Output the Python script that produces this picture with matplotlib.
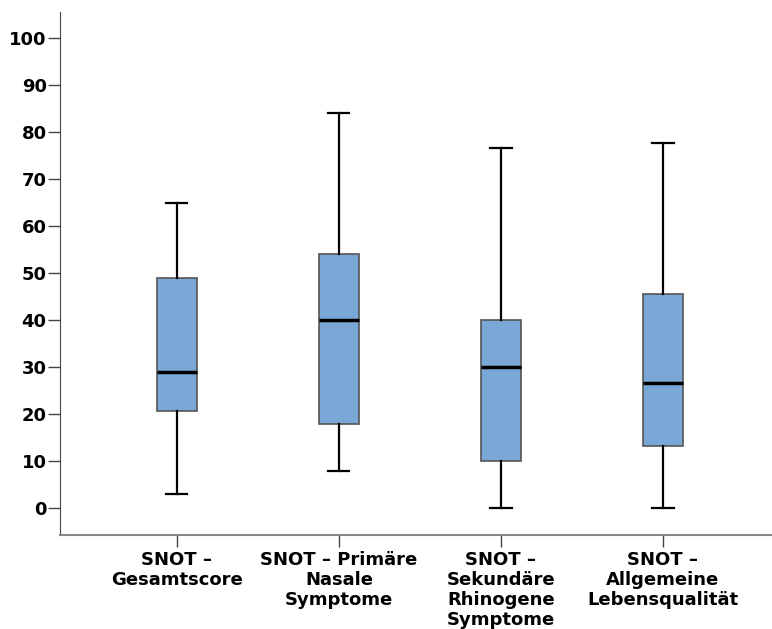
import matplotlib
matplotlib.use("Agg")
from matplotlib import pyplot as plt

# Box plot summaries
labels = ["SNOT \u2013\nGesamtscore",
          "SNOT \u2013 Primäre\nNasale\nSymptome",
          "SNOT \u2013\nSekundäre\nRhinogene\nSymptome",
          "SNOT \u2013\nAllgemeine\nLebensqualität"]
whisker_low = [3, 8, 0, 0]
q1 = [20.6, 18, 10, 13.3]
median = [29, 40, 30, 26.6]
q3 = [49, 54, 40, 45.6]
whisker_high = [65, 84, 76.6, 77.7]
yticks = list(range(0, 101, 10))

stats = []
for i in range(len(labels)):
    stats.append({"whislo": whisker_low[i], "q1": q1[i], "med": median[i],
                  "q3": q3[i], "whishi": whisker_high[i], "fliers": []})

plt.rcParams["font.family"] = "DejaVu Sans"
plt.rcParams["font.weight"] = "bold"

fig = plt.figure(figsize=(7.72, 6.29), dpi=100)
ax = fig.add_axes([60 / 772, 94 / 629, 712 / 772, 523 / 629])

ax.bxp(stats, positions=[1, 2, 3, 4], widths=0.25, patch_artist=True,
       showfliers=False, capwidths=0.13,
       boxprops=dict(facecolor="#7aa8d6", edgecolor="#555555", linewidth=1.2),
       medianprops=dict(color="black", linewidth=2.5),
       whiskerprops=dict(color="black", linewidth=1.6),
       capprops=dict(color="black", linewidth=1.6))

ax.set_xlim(0.278, 4.673)
ax.set_ylim(-5.7, 105.6)
ax.set_yticks(yticks)
ax.set_xticks([1, 2, 3, 4])
ax.set_xticklabels(labels, fontsize=13, fontweight="bold", linespacing=1.15)
ax.tick_params(axis="y", labelsize=13, length=8.6, width=1, color="#444444", pad=1)
ax.tick_params(axis="x", length=8.6, width=1, color="#444444", pad=3)

ax.spines["top"].set_visible(False)
ax.spines["right"].set_visible(False)
ax.spines["left"].set_color("#444444")
ax.spines["bottom"].set_color("#888888")
ax.spines["bottom"].set_linewidth(1.5)

fig.savefig("out.png", dpi=100)
